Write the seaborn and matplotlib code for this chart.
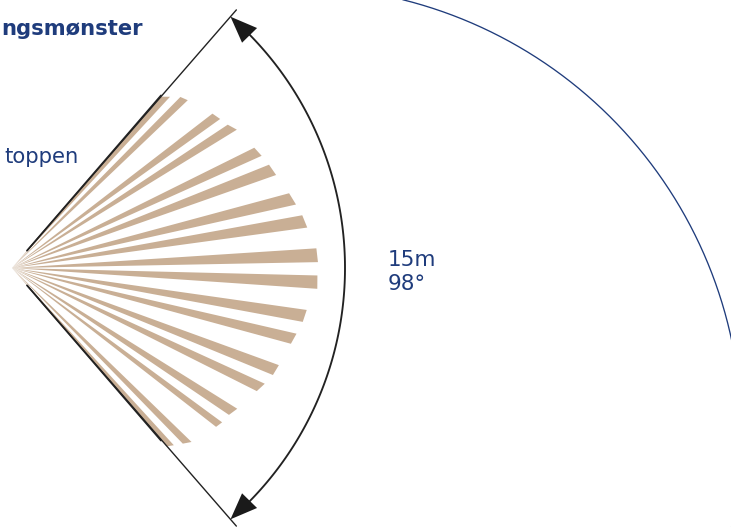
import numpy as np
import pandas as pd
import seaborn as sns
import matplotlib.pyplot as plt

# detection fan, one row per beam (degrees, pixels from apex)
beam_upper_angle = [49.0, 45.45, 37.6, 33.6, 26.4, 21.9, 15.1, 10.3, 3.7,
                    -1.4, -8.1, -13.0, -20.0, -24.6, -32.0, -36.3, -44.1, -47.6]
beam_lower_angle = [47.3, 43.67, 35.6, 31.6, 24.2, 19.4, 12.6, 7.8, 1.1,
                    -3.9, -10.5, -15.2, -22.3, -26.7, -34.1, -37.9, -45.8, -49.1]
beam_upper_reach = [227, 240, 253, 259, 270.5, 277, 287, 295, 305,
                    305.5, 297.7, 292, 284, 278, 265.6, 260.7, 250, 240]
beam_lower_reach = [233, 243, 256, 264, 273.7, 280, 291, 298, 306,
                    306, 295.7, 289, 282, 274, 262, 258.6, 245, 236]

fan_half_angle = 49.0
range_arc_radius = 333
title_text = "ngsmønster"
side_text = "toppen"
range_text = "15m"
angle_text = "98°"

NAVY = "#1f3c7c"
BEAM = "#c9af95"
INK = "#222222"
apex = (12, 268)

sns.set_theme(style="white")
plt.rcParams["font.family"] = ["DejaVu Sans"]


def polar_xy(angle, radius):
    a = np.radians(np.asarray(angle, dtype=float))
    return apex[0] + np.asarray(radius) * np.cos(a), apex[1] - np.asarray(radius) * np.sin(a)


fig, ax = plt.subplots(figsize=(7.31, 5.27), dpi=100)
fig.subplots_adjust(0, 0, 1, 1)
ax.set_xlim(0, 731)
ax.set_ylim(527, 0)
ax.axis("off")

# beams
for a1, a2, r1, r2 in zip(beam_upper_angle, beam_lower_angle, beam_upper_reach, beam_lower_reach):
    x, y = polar_xy([a1, a2], [r1, r2])
    ax.fill([apex[0], x[0], x[1]], [apex[1], y[0], y[1]], color=BEAM, lw=0, zorder=2)

# fan edges, a bit heavier along the beams
for sign in [1, -1]:
    x, y = polar_xy([sign * fan_half_angle] * 2, [23, 342])
    sns.lineplot(x=x, y=y, ax=ax, color=INK, lw=1.0, sort=False, estimator=None, zorder=3)
    x, y = polar_xy([sign * (fan_half_angle + 0.2)] * 2, [23, 228])
    sns.lineplot(x=x, y=y, ax=ax, color=INK, lw=1.2, sort=False, estimator=None, zorder=3)

# 98 degree arc with arrow heads
sweep = np.linspace(-44.5, 44.5, 120)
x, y = polar_xy(sweep, np.full(sweep.shape, range_arc_radius))
sns.lineplot(data=pd.DataFrame({"x": x, "y": y}), x="x", y="y", ax=ax, color=INK,
             lw=1.35, sort=False, estimator=None, zorder=3)
for sign in [1, -1]:
    x, y = polar_xy([sign * 49, sign * 44.4, sign * 44.4], [333, 343, 322])
    ax.fill(x, y, color="#1a1a1a", lw=0, zorder=4)

# outer coverage arc
outer = np.radians(np.linspace(76, -13, 200))
sns.lineplot(x=294.5 + 447 * np.cos(outer), y=433.4 - 447 * np.sin(outer), ax=ax,
             color=NAVY, lw=0.95, sort=False, estimator=None, zorder=3)

ax.text(1, 35, title_text, color=NAVY, fontsize=15.2, fontweight="bold", va="baseline")
ax.text(4, 163, side_text, color=NAVY, fontsize=15.2, va="baseline")
ax.text(388, 266, range_text, color=NAVY, fontsize=15.5, va="baseline")
ax.text(388, 290, angle_text, color=NAVY, fontsize=15.5, va="baseline")

fig.savefig("out.png", dpi=100)
